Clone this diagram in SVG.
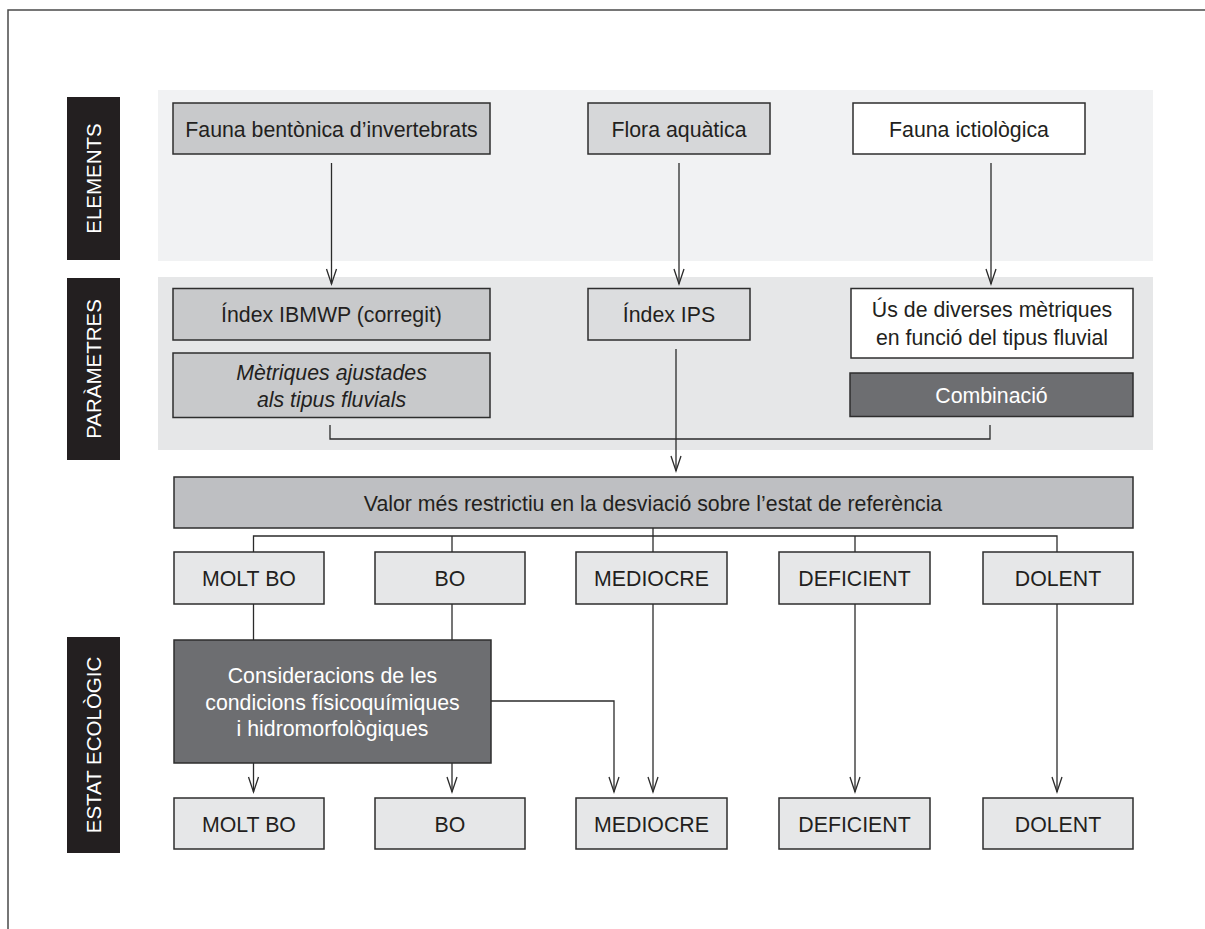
<svg xmlns="http://www.w3.org/2000/svg" width="1205" height="929" viewBox="0 0 1205 929">
  <defs>
    <!-- open V arrowhead, tip at the end of the line -->
    <marker id="arrow" markerUnits="userSpaceOnUse" markerWidth="18" markerHeight="14" viewBox="-16 -7 18 14" refX="0" refY="0" orient="auto" overflow="visible">
      <path d="M-15,-5 L0,0 L-15,5" fill="none" stroke="#2b2b2b" stroke-width="1.3"/>
    </marker>
  </defs>
  <style>
    text { font-family: "Liberation Sans", Arial, Helvetica, sans-serif; font-size: 21.3px; fill: #231f20; }
    .box { stroke: #2e2e2e; stroke-width: 1.5; }
    .mid { fill: #c8c9cb; }
    .soft { fill: #d6d7d9; }
    .pale { fill: #dcdddf; }
    .white { fill: #ffffff; }
    .level { fill: #e6e7e8; }
    .dark { fill: #6d6e71; }
    .valor { fill: #bebfc2; }
    .lt { fill: #ffffff; }
    .bar { fill: #231f20; }
    .bartext { fill: #ffffff; font-size: 20.5px; }
    .conn { fill: none; stroke: #2b2b2b; stroke-width: 1.3; }
    .it { font-style: italic; }
  </style>

  <!-- outer frame -->
  <path d="M8,929 V10 H1205" fill="none" stroke="#4a4a4a" stroke-width="1.5"/>

  <!-- background bands -->
  <rect x="158" y="90" width="995" height="171" fill="#f1f2f3"/>
  <rect x="158" y="277" width="995" height="173" fill="#e6e7e8"/>

  <!-- row labels -->
  <g id="label-elements">
    <rect class="bar" x="67" y="97" width="53" height="163"/>
    <text class="bartext" transform="translate(100.5,178.5) rotate(-90)" text-anchor="middle">ELEMENTS</text>
  </g>
  <g id="label-parametres">
    <rect class="bar" x="67" y="278" width="53" height="182"/>
    <text class="bartext" transform="translate(100.5,369) rotate(-90)" text-anchor="middle">PARÀMETRES</text>
  </g>
  <g id="label-estat">
    <rect class="bar" x="67" y="637" width="53" height="216"/>
    <text class="bartext" transform="translate(100.5,745) rotate(-90)" text-anchor="middle">ESTAT ECOLÒGIC</text>
  </g>

  <!-- connectors -->
  <g id="connectors">
    <path class="conn" d="M331.5,163 V284" marker-end="url(#arrow)"/>
    <path class="conn" d="M679,163 V284" marker-end="url(#arrow)"/>
    <path class="conn" d="M991,163 V284" marker-end="url(#arrow)"/>
    <path class="conn" d="M330,425 V439 H990 V425"/>
    <path class="conn" d="M676,349 V471" marker-end="url(#arrow)"/>
    <path class="conn" d="M653,528 V536"/>
    <path class="conn" d="M253.5,552 V536 H1057 V552"/>
    <path class="conn" d="M452,536 V552"/>
    <path class="conn" d="M653,536 V552"/>
    <path class="conn" d="M855,536 V552"/>
    <path class="conn" d="M253.5,604 V640"/>
    <path class="conn" d="M452,604 V640"/>
    <path class="conn" d="M253.5,763 V792" marker-end="url(#arrow)"/>
    <path class="conn" d="M452,763 V792" marker-end="url(#arrow)"/>
    <path class="conn" d="M491,701 H614 V792" marker-end="url(#arrow)"/>
    <path class="conn" d="M653,604 V792" marker-end="url(#arrow)"/>
    <path class="conn" d="M855,604 V792" marker-end="url(#arrow)"/>
    <path class="conn" d="M1057,604 V792" marker-end="url(#arrow)"/>
  </g>

  <!-- elements -->
  <g id="fauna-bentonica">
    <rect class="box mid" x="173" y="103" width="317" height="51"/>
    <text x="331.5" y="136.5" text-anchor="middle">Fauna bentònica d’invertebrats</text>
  </g>
  <g id="flora-aquatica">
    <rect class="box soft" x="588" y="103" width="182" height="51"/>
    <text x="679" y="136.5" text-anchor="middle">Flora aquàtica</text>
  </g>
  <g id="fauna-ictiologica">
    <rect class="box white" x="853" y="103" width="232" height="51"/>
    <text x="969" y="136.5" text-anchor="middle">Fauna ictiològica</text>
  </g>

  <!-- parameters -->
  <g id="index-ibmwp">
    <rect class="box mid" x="173" y="288.5" width="317" height="51.5"/>
    <text x="331.5" y="322" text-anchor="middle">Índex IBMWP (corregit)</text>
  </g>
  <g id="metriques">
    <rect class="box mid" x="173" y="353" width="317" height="64.5"/>
    <text class="it" x="331.5" y="380" text-anchor="middle">Mètriques ajustades</text>
    <text class="it" x="331.5" y="406.5" text-anchor="middle">als tipus fluvials</text>
  </g>
  <g id="index-ips">
    <rect class="box pale" x="588" y="288.5" width="162" height="51.5"/>
    <text x="669" y="322" text-anchor="middle">Índex IPS</text>
  </g>
  <g id="us-metriques">
    <rect class="box white" x="851" y="288.5" width="282" height="69.5"/>
    <text x="992" y="316.5" text-anchor="middle">Ús de diverses mètriques</text>
    <text x="992" y="344.5" text-anchor="middle">en funció del tipus fluvial</text>
  </g>
  <g id="combinacio">
    <rect class="box dark" x="850" y="373" width="283" height="43.5"/>
    <text class="lt" x="991.5" y="402.5" text-anchor="middle">Combinació</text>
  </g>

  <!-- restrictive value -->
  <g id="valor">
    <rect class="box valor" x="174" y="477" width="959" height="51"/>
    <text x="653" y="510.5" text-anchor="middle">Valor més restrictiu en la desviació sobre l’estat de referència</text>
  </g>

  <!-- biological classes -->
  <g id="bio-molt-bo">
    <rect class="box level" x="174" y="552" width="150" height="52"/>
    <text x="249" y="586" text-anchor="middle">MOLT BO</text>
  </g>
  <g id="bio-bo">
    <rect class="box level" x="375" y="552" width="150" height="52"/>
    <text x="450" y="586" text-anchor="middle">BO</text>
  </g>
  <g id="bio-mediocre">
    <rect class="box level" x="576" y="552" width="151" height="52"/>
    <text x="651.5" y="586" text-anchor="middle">MEDIOCRE</text>
  </g>
  <g id="bio-deficient">
    <rect class="box level" x="779" y="552" width="151" height="52"/>
    <text x="854.5" y="586" text-anchor="middle">DEFICIENT</text>
  </g>
  <g id="bio-dolent">
    <rect class="box level" x="983" y="552" width="150" height="52"/>
    <text x="1058" y="586" text-anchor="middle">DOLENT</text>
  </g>

  <!-- physicochemical considerations -->
  <g id="consideracions">
    <rect class="box dark" x="174" y="640" width="317" height="123"/>
    <text class="lt" x="332.5" y="683" text-anchor="middle">Consideracions de les</text>
    <text class="lt" x="332.5" y="709.5" text-anchor="middle">condicions físicoquímiques</text>
    <text class="lt" x="332.5" y="736" text-anchor="middle">i hidromorfològiques</text>
  </g>

  <!-- ecological status -->
  <g id="eco-molt-bo">
    <rect class="box level" x="174" y="798" width="150" height="51"/>
    <text x="249" y="831.5" text-anchor="middle">MOLT BO</text>
  </g>
  <g id="eco-bo">
    <rect class="box level" x="375" y="798" width="150" height="51"/>
    <text x="450" y="831.5" text-anchor="middle">BO</text>
  </g>
  <g id="eco-mediocre">
    <rect class="box level" x="576" y="798" width="151" height="51"/>
    <text x="651.5" y="831.5" text-anchor="middle">MEDIOCRE</text>
  </g>
  <g id="eco-deficient">
    <rect class="box level" x="779" y="798" width="151" height="51"/>
    <text x="854.5" y="831.5" text-anchor="middle">DEFICIENT</text>
  </g>
  <g id="eco-dolent">
    <rect class="box level" x="983" y="798" width="150" height="51"/>
    <text x="1058" y="831.5" text-anchor="middle">DOLENT</text>
  </g>
</svg>
